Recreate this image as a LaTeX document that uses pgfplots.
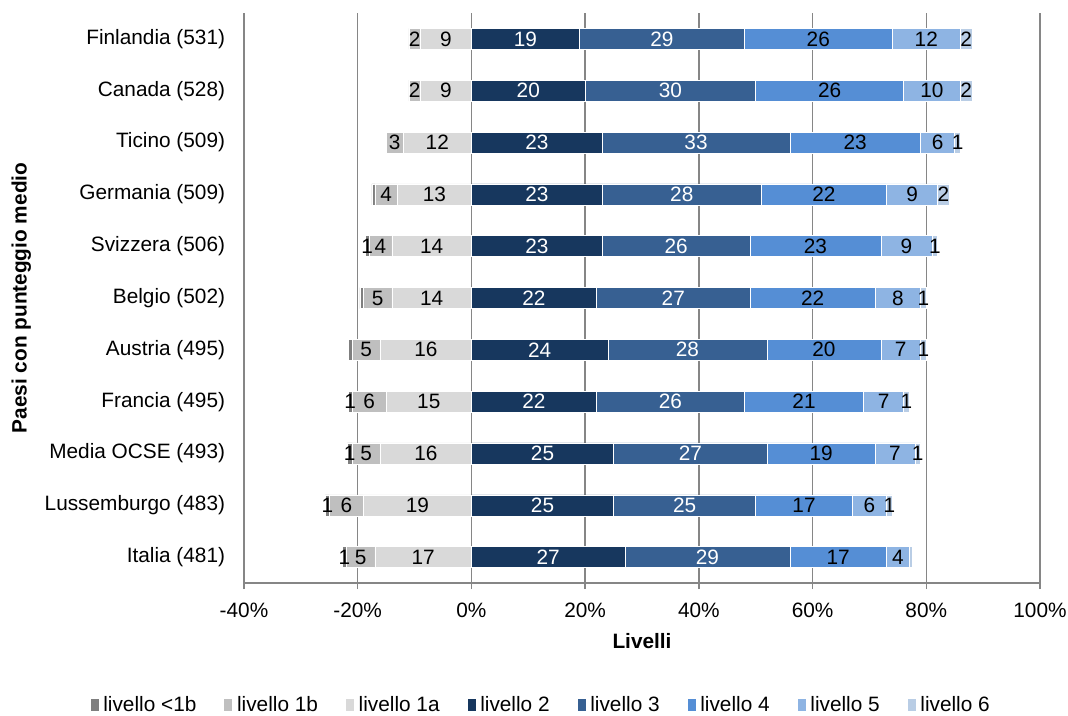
\documentclass[border=0pt]{standalone}
\usepackage{fontspec}
\setmainfont{Liberation Sans}
\usepackage{pgfplots}
\usepackage{pgfplotstable}
\pgfplotsset{compat=1.18}
\definecolor{cA}{HTML}{7F7F7F}
\definecolor{cB}{HTML}{BFBFBF}
\definecolor{cC}{HTML}{D9D9D9}
\definecolor{c2}{HTML}{17375E}
\definecolor{c3}{HTML}{376092}
\definecolor{c4}{HTML}{558ED5}
\definecolor{c5}{HTML}{8EB4E3}
\definecolor{c6}{HTML}{B9CDE5}
\definecolor{gridc}{HTML}{868686}

% idx 0 = Italia ... 10 = Finlandia
\pgfplotstableread{
idx n0 n0l n1 n1l n2 n2l p2 p3 p4 p5 p6 p6l
0  -0.7 1 -5 5 -17 17 27 29 17 4  0.5 0
1  -0.7 1 -6 6 -19 19 25 25 17 6  1 1
2  -0.8 1 -5 5 -16 16 25 27 19 7  1 1
3  -0.7 1 -6 6 -15 15 22 26 21 7  1 1
4  -0.6 0 -5 5 -16 16 24 28 20 7  1 1
5  -0.6 0 -5 5 -14 14 22 27 22 8  1 1
6  -0.7 1 -4 4 -14 14 23 26 23 9  1 1
7  -0.5 0 -4 4 -13 13 23 28 22 9  2 2
8   0   0 -3 3 -12 12 23 33 23 6  1 1
9   0   0 -2 2 -9  9  20 30 26 10 2 2
10  0   0 -2 2 -9  9  19 29 26 12 2 2
}\data

\newcommand{\fs}{\fontsize{15.6}{18}\selectfont}

\pgfplotsset{
  base/.style={
    scale only axis, width=597pt, height=427.5pt,
    xmin=-40, xmax=100, ymin=-0.5, ymax=10.5,
    xbar stacked, bar width=15.75pt,
  },
  lab/.style={
    point meta=explicit,
    nodes near coords={\pgfmathfloatifflags{\pgfplotspointmeta}{0}{}{\pgfmathprintnumber[fixed,precision=0,assume math mode=true]{\pgfplotspointmeta}}},
    every node near coord/.append style={anchor=center, inner sep=0pt, font=\fs, text=#1},
  },
}

\begin{document}
\begin{tikzpicture}
\begin{axis}[base, name=main,
  axis x line*=bottom, axis y line*=left,
  y axis line style={draw=none},
  x axis line style={gridc, line width=2pt},
  ytick style={draw=none},
  xtick style={gridc, line width=1pt},
  tick align=outside, major tick length=4.5pt,
  xmajorgrids, major grid style={gridc, line width=1pt},
  xtick={-40,-20,0,20,40,60,80,100},
  xticklabels={-40\%,-20\%,0\%,20\%,40\%,60\%,80\%,100\%},
  ytick={0,...,10},
  yticklabels={Italia (481), Lussemburgo (483), Media OCSE (493), Francia (495), Austria (495), Belgio (502), Svizzera (506), Germania (509), Ticino (509), Canada (528), Finlandia (531)},
  tick label style={font=\fs},
  yticklabel style={anchor=east, inner sep=0pt, xshift=-9.5pt},
  xticklabel style={anchor=north, inner sep=0pt, yshift=-10.5pt},
  xlabel={\textbf{Livelli}},
  xlabel style={font=\fs, at={(axis description cs:0.5,0)}, anchor=center, yshift=-43.5pt},
  ylabel={\textbf{Paesi con punteggio medio}},
  ylabel style={font=\fs, at={(axis description cs:0,0.5)}, anchor=center, rotate=0, xshift=0pt, yshift=167pt},
  legend columns=8,
  legend style={at={(0.373,0)}, anchor=center, yshift=-91.5pt, draw=none, fill=none, font=\fs, inner sep=0pt,
    nodes={inner sep=1pt},
    /tikz/every odd column/.append style={column sep=2.5pt},
    /tikz/every even column/.append style={column sep=20pt}},
  legend image code/.code={\fill[#1] (0pt,-4.5pt) rectangle (6pt,4.5pt);},
]
\addplot[fill=cC, draw=white, line width=0.4pt, forget plot, lab=black] table[x=n2, y=idx, meta=n2l] {\data};
\addplot[fill=cB, draw=white, line width=0.4pt, forget plot, lab=black] table[x=n1, y=idx, meta=n1l] {\data};
\addplot[fill=cA, draw=white, line width=0.4pt, forget plot, lab=black] table[x=n0, y=idx, meta=n0l] {\data};
\addlegendimage{fill=cA, draw=none}\addlegendentry{livello <1b}
\addlegendimage{fill=cB, draw=none}\addlegendentry{livello 1b}
\addlegendimage{fill=cC, draw=none}\addlegendentry{livello 1a}
\addlegendimage{fill=c2, draw=none}\addlegendentry{livello 2}
\addlegendimage{fill=c3, draw=none}\addlegendentry{livello 3}
\addlegendimage{fill=c4, draw=none}\addlegendentry{livello 4}
\addlegendimage{fill=c5, draw=none}\addlegendentry{livello 5}
\addlegendimage{fill=c6, draw=none}\addlegendentry{livello 6}
\end{axis}
\begin{axis}[base, hide axis]
\addplot[fill=c2, draw=white, line width=0.4pt, lab=white] table[x=p2, y=idx, meta=p2] {\data};
\addplot[fill=c3, draw=white, line width=0.4pt, lab=white] table[x=p3, y=idx, meta=p3] {\data};
\addplot[fill=c4, draw=white, line width=0.4pt, lab=black] table[x=p4, y=idx, meta=p4] {\data};
\addplot[fill=c5, draw=white, line width=0.4pt, lab=black] table[x=p5, y=idx, meta=p5] {\data};
\addplot[fill=c6, draw=white, line width=0.4pt, lab=black] table[x=p6, y=idx, meta=p6l] {\data};
\end{axis}
\pgfresetboundingbox
\path[use as bounding box] ([xshift=-183pt,yshift=-99pt]main.south west) rectangle ([xshift=21pt,yshift=9.75pt]main.north east);
\end{tikzpicture}
\end{document}
